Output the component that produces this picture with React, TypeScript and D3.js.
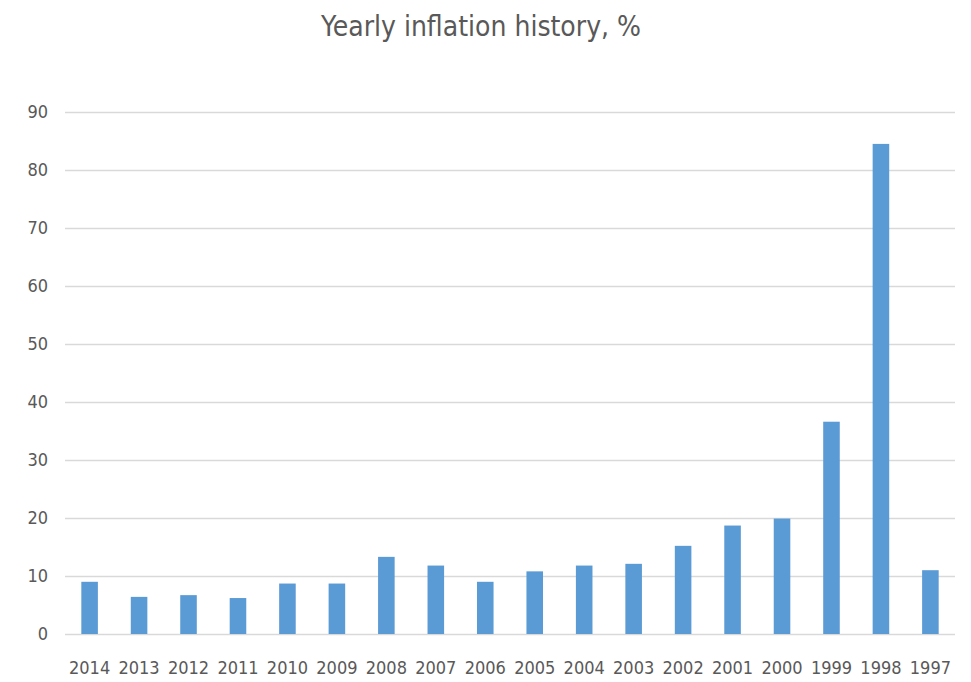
import { useEffect, useRef } from 'react';
import * as d3 from 'd3';

const years = ['2014', '2013', '2012', '2011', '2010', '2009', '2008', '2007', '2006', '2005', '2004', '2003', '2002', '2001', '2000', '1999', '1998', '1997'];
const inflation = [9.0, 6.4, 6.7, 6.2, 8.7, 8.7, 13.3, 11.8, 9.0, 10.8, 11.8, 12.1, 15.2, 18.7, 19.9, 36.6, 84.5, 11.0];
const yTicks = [0, 10, 20, 30, 40, 50, 60, 70, 80, 90];

const width = 971;
const height = 682;
const font = "'Liberation Sans Narrow', 'DejaVu Sans Condensed', 'Open Sans', sans-serif";

export default function App() {
  const svgRef = useRef<SVGSVGElement>(null);
  const margin = { top: 112, right: 16, bottom: 48, left: 65 };

  useEffect(() => {
    if (!svgRef.current) return;
    const svg = d3.select(svgRef.current);
    svg.selectAll('*').remove();

    const innerWidth = width - margin.left - margin.right;
    const innerHeight = height - margin.top - margin.bottom;

    const x = d3.scaleBand<string>().domain(years).range([0, innerWidth]).paddingInner(0.665).paddingOuter(0.33);
    const y = d3.scaleLinear().domain([0, 90]).range([innerHeight, 0]);

    svg.append('rect').attr('width', width).attr('height', height).attr('fill', '#fff');

    const g = svg.append('g').attr('transform', `translate(${margin.left},${margin.top})`);

    // grid
    g.append('g')
      .call(d3.axisLeft(y).tickValues(yTicks).tickSize(-innerWidth).tickFormat(() => ''))
      .call(s => s.select('.domain').remove())
      .selectAll('line')
      .attr('stroke', '#d9d9d9')
      .attr('stroke-width', 1.5);

    // y labels
    g.selectAll('.ylab')
      .data(yTicks)
      .join('text')
      .attr('x', -17)
      .attr('y', d => y(d) + 6)
      .attr('text-anchor', 'end')
      .style('font-family', font)
      .style('font-size', '18px')
      .style('fill', '#595959')
      .text(d => d);

    // bars
    g.selectAll('.bar')
      .data(years)
      .join('rect')
      .attr('x', d => x(d) ?? 0)
      .attr('y', (d, i) => y(inflation[i]))
      .attr('width', x.bandwidth())
      .attr('height', (d, i) => innerHeight - y(inflation[i]))
      .attr('fill', '#5b9bd5');

    // x labels
    g.selectAll('.xlab')
      .data(years)
      .join('text')
      .attr('x', d => (x(d) ?? 0) + x.bandwidth() / 2)
      .attr('y', innerHeight + 40)
      .attr('text-anchor', 'middle')
      .style('font-family', font)
      .style('font-size', '18px')
      .style('fill', '#595959')
      .text(d => d);

    // title
    svg.append('text')
      .attr('x', 481)
      .attr('y', 36)
      .attr('text-anchor', 'middle')
      .style('font-family', font)
      .style('font-size', '28px')
      .style('fill', '#595959')
      .text('Yearly inflation history, %');
  }, []);

  return (
    <svg
      ref={svgRef}
      width={width}
      height={height}
      style={{ position: 'absolute', left: 0, top: 0, display: 'block' }}
    />
  );
}
